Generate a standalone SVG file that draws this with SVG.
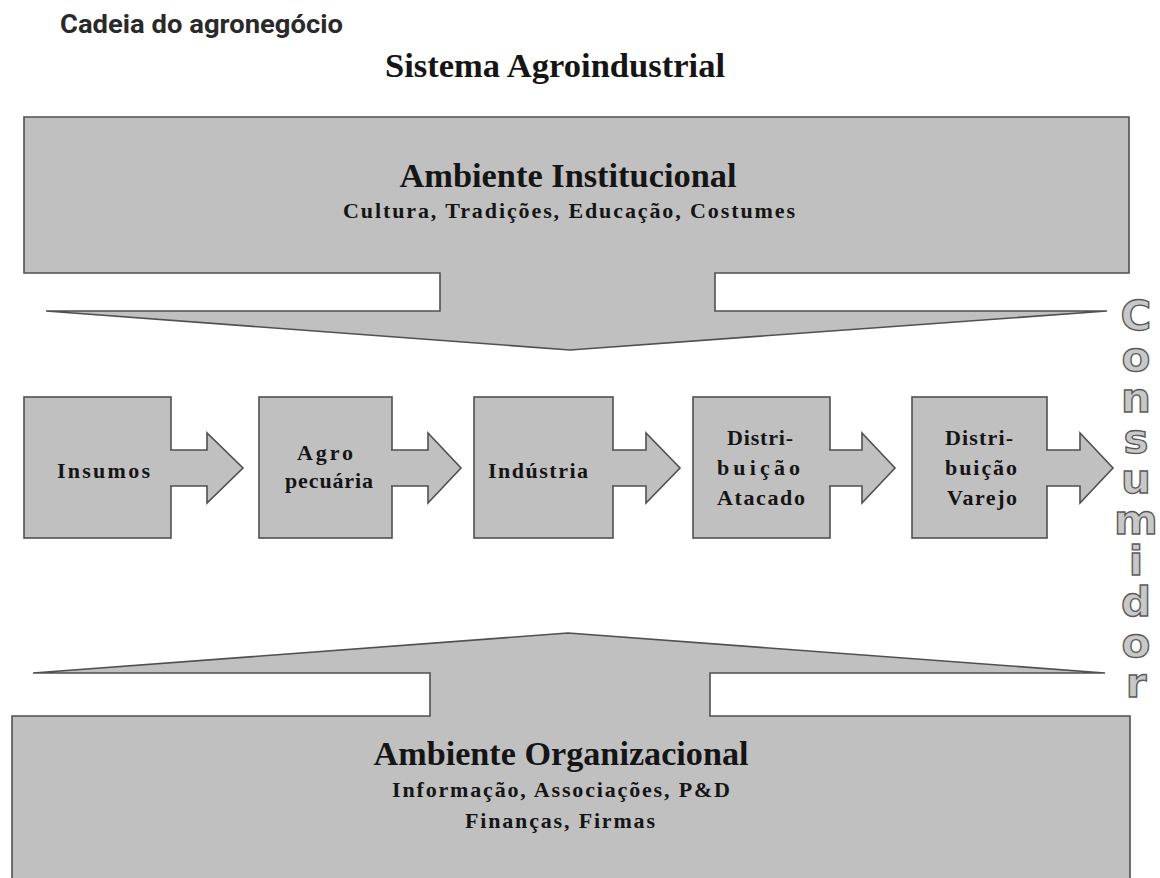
<svg xmlns="http://www.w3.org/2000/svg" width="1160" height="878" viewBox="0 0 1160 878">
<style>
.shape{fill:#c0c0c0;stroke:#505050;stroke-width:1.6;stroke-linejoin:miter}
.t{font-family:"Liberation Serif","Times New Roman",serif;font-weight:700;fill:#151515;text-anchor:middle}
.big{font-size:34px}
.sub{font-size:22px}
.node{font-size:22px}
.cons{font-family:"DejaVu Sans","Liberation Sans",sans-serif;font-weight:700;font-size:40px;fill:#c8c8c8;stroke:#5a5a5a;stroke-width:1.3;writing-mode:vertical-rl;text-orientation:upright;letter-spacing:-6px}
</style>
<rect width="1160" height="878" fill="#ffffff"/>
<text x="60" y="33" font-family="Roboto,'Liberation Sans',sans-serif" font-weight="700" font-size="26" fill="#2a2a2a" textLength="283" lengthAdjust="spacingAndGlyphs">Cadeia do agronegócio</text>
<text class="t big" x="555" y="77" textLength="340" lengthAdjust="spacingAndGlyphs">Sistema Agroindustrial</text>

<g id="ambiente-institucional">
<polygon class="shape" points="24,117 1129,117 1129,273 715,273 715,311 1107,311 570,350 46,311 440,311 440,273 24,273"/>
<text class="t big" x="568" y="187" textLength="337" lengthAdjust="spacingAndGlyphs">Ambiente Institucional</text>
<text class="t sub" x="569" y="218" textLength="452" lengthAdjust="spacing">Cultura, Tradições, Educação, Costumes</text>
</g>

<g id="ambiente-organizacional">
<polygon class="shape" points="12,716 430,716 430,673 33,673 568,633 1105,673 710,673 710,716 1130,716 1130,886 12,886"/>
<text class="t big" x="561" y="765" textLength="375" lengthAdjust="spacingAndGlyphs">Ambiente Organizacional</text>
<text class="t sub" x="561" y="797" textLength="338" lengthAdjust="spacing">Informação, Associações, P&amp;D</text>
<text class="t sub" x="560" y="828" textLength="190" lengthAdjust="spacing">Finanças, Firmas</text>
</g>

<g id="insumos">
<rect class="shape" x="24" y="397" width="147" height="141"/>
<text class="t node" x="103.5" y="478" textLength="93" lengthAdjust="spacing">Insumos</text>
</g>
<g id="agropecuaria">
<rect class="shape" x="259" y="397" width="133" height="141"/>
<text class="t node" x="325" y="460" textLength="56" lengthAdjust="spacing">Agro</text>
<text class="t node" x="329" y="488" textLength="88" lengthAdjust="spacing">pecuária</text>
</g>
<g id="industria">
<rect class="shape" x="474" y="397" width="139" height="141"/>
<text class="t node" x="538" y="478" textLength="100" lengthAdjust="spacing">Indústria</text>
</g>
<g id="distribuicao-atacado">
<rect class="shape" x="693" y="397" width="137" height="141"/>
<text class="t node" x="760" y="445" textLength="66" lengthAdjust="spacing">Distri-</text>
<text class="t node" x="758.5" y="475" textLength="83" lengthAdjust="spacing">buição</text>
<text class="t node" x="761" y="505" textLength="88" lengthAdjust="spacing">Atacado</text>
</g>
<g id="distribuicao-varejo">
<rect class="shape" x="912" y="397" width="135" height="141"/>
<text class="t node" x="979" y="445" textLength="68" lengthAdjust="spacing">Distri-</text>
<text class="t node" x="981" y="475" textLength="72" lengthAdjust="spacing">buição</text>
<text class="t node" x="982" y="505" textLength="70" lengthAdjust="spacing">Varejo</text>
</g>

<g id="connectors">
<path class="shape" d="M170,450 H207 V433 L243,468 L207,503 V486 H170"/>
<path class="shape" d="M391,450 H428 V433 L461,468 L428,503 V486 H391"/>
<path class="shape" d="M612,450 H646 V433 L680,468 L646,503 V486 H612"/>
<path class="shape" d="M829,450 H862 V433 L895,468 L862,503 V486 H829"/>
<path class="shape" d="M1046,450 H1080 V433 L1113,468 L1080,503 V486 H1046"/>
</g>

<g id="consumidor" transform="translate(1136,0) scale(1.05,1) translate(-1136,0)">
<text class="cons" x="1136" y="293">Consumidor</text>
</g>
</svg>
